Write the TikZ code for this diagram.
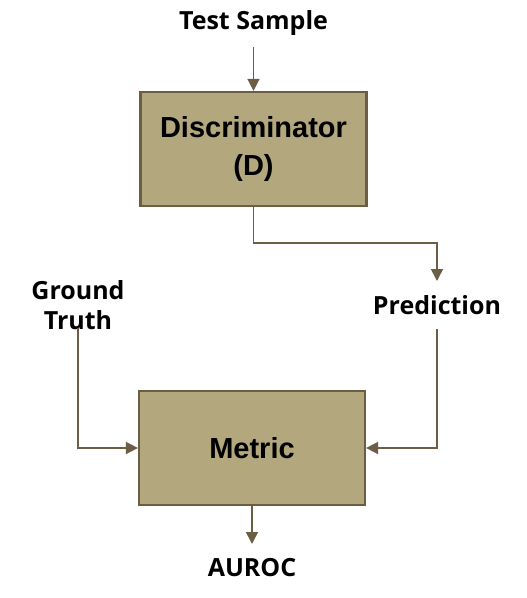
\documentclass[tikz,border=0pt]{standalone}
\usepackage{fontspec}
\setmainfont{Open Sans}
\newfontfamily\boxfont{Liberation Sans}
\usetikzlibrary{arrows.meta}
\definecolor{boxfill}{HTML}{B3A77D}
\definecolor{boxline}{HTML}{6B5E45}
\begin{document}
\begin{tikzpicture}[x=1pt,y=-1pt,
  blk/.style={draw=boxline,fill=boxfill,line width=2.2pt,minimum width=226pt,minimum height=114pt,
    font=\boxfont\bfseries\fontsize{29}{38}\selectfont,align=center,inner sep=0pt},
  lbl/.style={font=\bfseries\fontsize{25}{30}\selectfont,align=center,inner sep=0pt},
  arr/.style={draw=boxline,line width=1.5pt,-{Triangle[length=12pt,width=12pt]},color=boxline}]
\useasboundingbox (0,0) rectangle (527,598);
\node[blk] (disc) at (253.5,149) {Discriminator\\(D)};
\node[blk] (metric) at (252,448) {Metric};
\node[lbl] (ts) at (253.5,23) {Test Sample};
\node[lbl] (pred) at (437,305) {Prediction};
\node[lbl] (gt) at (78,305) {Ground\\Truth};
\node[lbl] (auroc) at (252,568) {AUROC};
\coordinate (tsb) at (253.5,47);
\coordinate (predtop) at (437,281);
\coordinate (predb) at (437,329);
\coordinate (gtb) at (78,328);
\coordinate (aurtop) at (252,544);
\draw[arr] (tsb) -- (disc.north);
\draw[arr] (disc.south) |- (345,243) -| (predtop);
\draw[arr] (predb) |- (metric.east);
\draw[arr] (gtb) |- (metric.west);
\draw[arr] (metric.south) -- (aurtop);
\end{tikzpicture}
\end{document}
